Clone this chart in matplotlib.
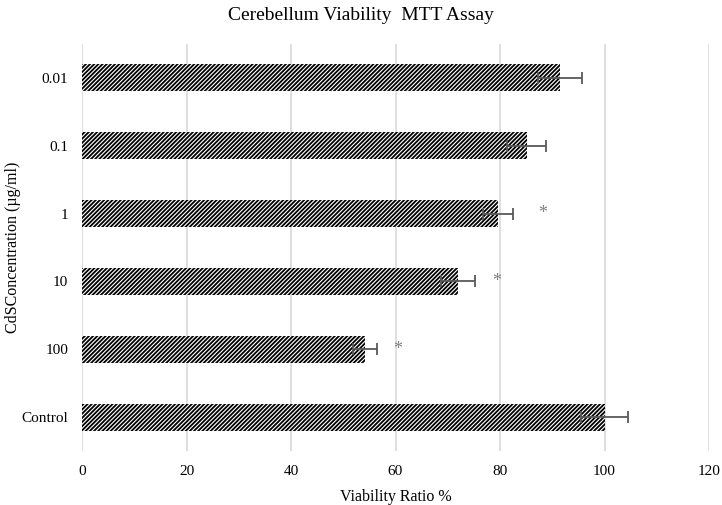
import matplotlib
matplotlib.use("Agg")
import matplotlib.pyplot as plt

# data (bottom to top)
categories = ["Control", "100", "10", "1", "0.1", "0.01"]
viability = [100.0, 54.2, 72.0, 79.6, 85.1, 91.5]
errors = [4.5, 2.3, 3.2, 2.8, 3.7, 4.2]
star_x = [None, 60.5, 79.4, 88.2, None, None]

plt.rcParams["font.family"] = ["Liberation Serif", "DejaVu Serif"]
plt.rcParams["hatch.linewidth"] = 1.3

fig = plt.figure(figsize=(7.22, 5.05), dpi=100)
ax = fig.add_axes([82 / 722, 1 - 451 / 505, (709 - 82) / 722, (451 - 44) / 505])

ypos = list(range(len(categories)))
ax.barh(ypos, viability, height=0.4, color="white", edgecolor="black",
        hatch="////////", linewidth=0, zorder=2)
ax.errorbar(viability, ypos, xerr=errors, fmt="none", ecolor="#595959",
            elinewidth=1.3, capsize=4, capthick=1.3, zorder=3)

for y, sx in zip(ypos, star_x):
    if sx is not None:
        ax.text(sx, y, "*", color="#7f7f7f", fontsize=13, ha="center", va="center")

ax.set_xlim(0, 120)
ax.set_ylim(-0.5, len(categories) - 0.5)
ax.set_xticks(range(0, 121, 20))
ax.set_yticks(ypos)
ax.set_yticklabels(categories)
ax.grid(axis="x", color="#d9d9d9", linewidth=1.2, zorder=0)
ax.set_axisbelow(True)
for s in ax.spines.values():
    s.set_visible(False)
ax.tick_params(length=0, labelsize=11, pad=10)
ax.tick_params(axis="y", pad=10)

ax.set_xlabel("Viability Ratio %", fontsize=11.5, labelpad=8)
ax.set_ylabel("CdSConcentration (µg/ml)", fontsize=11.5, labelpad=0)
fig.text(0.5, 1 - 15 / 505, "Cerebellum Viability  MTT Assay", fontsize=14,
         ha="center", va="center")

fig.savefig("out.png", dpi=100)
